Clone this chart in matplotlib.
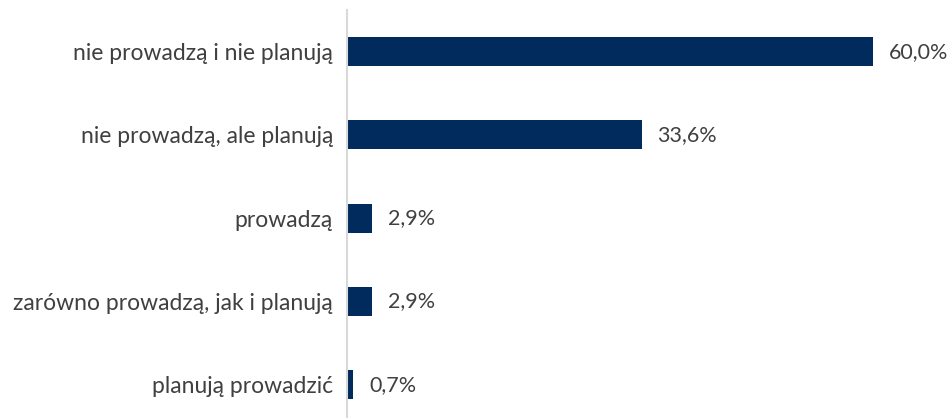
import matplotlib.pyplot as plt
import numpy as np

categories = ['nie prowadzą i nie planują', 'nie prowadzą, ale planują', 'prowadzą',
              'zarówno prowadzą, jak i planują', 'planują prowadzić']
values = [60.0, 33.6, 2.9, 2.9, 0.7]
labels = ['60,0%', '33,6%', '2,9%', '2,9%', '0,7%']

plt.rcParams['font.family'] = ['Lato', 'DejaVu Sans']

fig = plt.figure(figsize=(9.51, 4.18), dpi=100)
ax = fig.add_axes([347 / 951, 0, 604 / 951, 408 / 418])

y = np.arange(len(categories))
ax.barh(y, values, height=0.35, color='#002B5C')
for yi, v, lab in zip(y, values, labels):
    ax.text(v + 1.8, yi, lab, va='center', ha='left', fontsize=15.5,
            color='#404040', clip_on=False)

ax.set_xlim(0, 68.9)
ax.set_ylim(4.4, -0.5)
ax.set_yticks(y)
ax.set_yticklabels(categories, fontsize=16.5, color='#404040')
ax.tick_params(axis='y', length=0, pad=10)
ax.set_xticks([])
for s in ['top', 'right', 'bottom']:
    ax.spines[s].set_visible(False)
ax.spines['left'].set_color('#D9D9D9')
ax.spines['left'].set_linewidth(1.5)

fig.savefig('out.png', dpi=100)
